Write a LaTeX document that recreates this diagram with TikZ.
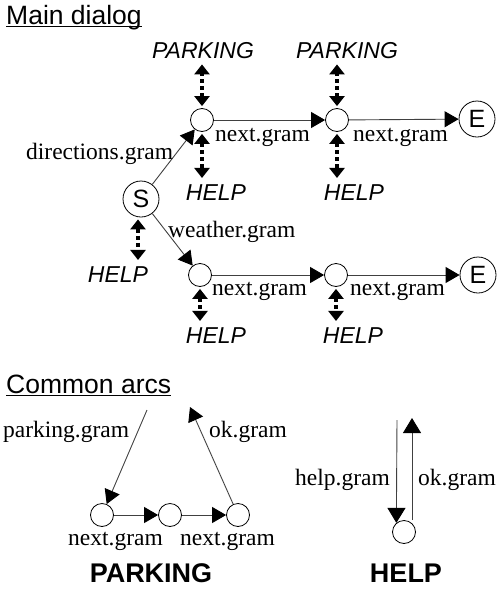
\documentclass[tikz,border=0pt]{standalone}
\usepackage{fontspec}
\setmainfont{Liberation Serif}
\setsansfont{Liberation Sans}
\usetikzlibrary{arrows.meta}

\begin{document}
\begin{tikzpicture}[x=1pt,y=-1pt,
  state/.style={circle,draw,line width=0.8pt,minimum size=23pt,inner sep=0pt},
  final/.style={state,minimum size=36pt,font=\sffamily\fontsize{25}{25}\selectfont},
  arc/.style={draw=black!75,line width=0.9pt,-{Triangle[length=14pt,width=16pt,color=black]}},
  bigarc/.style={arc,-{Triangle[length=15pt,width=18pt,color=black]}},
  subcall/.style={line width=4pt,dash pattern=on 4pt off 3pt,{Triangle[length=10pt,width=15pt]}-{Triangle[length=10pt,width=15pt]},shorten <=2pt},
  gram/.style={anchor=base west,inner sep=0pt,font=\fontsize{23.5}{23.5}\selectfont},
  sub/.style={anchor=base,inner sep=6pt,font=\sffamily\itshape\fontsize{23}{23}\selectfont},
  heading/.style={anchor=base west,inner sep=0pt,font=\sffamily\fontsize{26.5}{26.5}\selectfont},
  caption/.style={anchor=base,inner sep=0pt,font=\sffamily\bfseries\fontsize{27}{27}\selectfont}]
 \useasboundingbox (0,0) rectangle (498,592);

 % main dialog
 \node[heading] (main) at (6,24) {Main dialog};
 \draw[line width=1.5pt] ([yshift=-2.5pt]main.base west) -- ([yshift=-2.5pt]main.base east);

 \node[final] (S) at (141,199) {S};
 \node[state] (A) at (202,120) {};
 \node[state] (B) at (337,120) {};
 \node[final] (Et) at (477,119) {E};
 \node[state] (C) at (200,275) {};
 \node[state] (D) at (336,275) {};
 \node[final] (Eb) at (478,275) {E};

 \draw[arc] (S) -- (A);
 \draw[arc] (A) -- (B);
 \draw[arc] (B) -- (Et);
 \draw[arc] (S) -- (C);
 \draw[arc] (C) -- (D);
 \draw[arc] (D) -- (Eb);

 \node[gram] (dir) at (26,159) {directions.gram};
 \node[gram] (nAB) at (215,141) {next.gram};
 \node[gram] (nBE) at (353,141) {next.gram};
 \node[gram] (wea) at (168,237) {weather.gram};
 \node[gram] (nCD) at (212,295) {next.gram};
 \node[gram] (nDE) at (350,295) {next.gram};

 % sub-dialog calls
 \node[sub] (pA) at (203,58) {PARKING};
 \node[sub] (pB) at (347,58) {PARKING};
 \node[sub] (hA) at (216,200) {HELP};
 \node[sub] (hB) at (354,200) {HELP};
 \node[sub] (hS) at (118,282) {HELP};
 \node[sub] (hC) at (216,343) {HELP};
 \node[sub] (hD) at (353,343) {HELP};

 \draw[subcall] (A.north) -- (A.north |- pA.south);
 \draw[subcall] (B.north) -- (B.north |- pB.south);
 \draw[subcall] (A.south) -- (A.south |- hA.north);
 \draw[subcall] (B.south) -- (B.south |- hB.north);
 \draw[subcall] ([xshift=-3pt]S.south) -- ([xshift=-3pt]S.south |- hS.north);
 \draw[subcall] (C.south) -- (C.south |- hC.north);
 \draw[subcall] (D.south) -- (D.south |- hD.north);

 % common arcs
 \node[heading] (common) at (6,393) {Common arcs};
 \draw[line width=1.5pt] ([yshift=-2.5pt]common.base west) -- ([yshift=-2.5pt]common.base east);

 \node[state] (p1) at (102,515) {};
 \node[state] (p2) at (170,515) {};
 \node[state] (p3) at (238,515) {};
 \coordinate (pin) at (147,410);
 \coordinate (pout) at (190,407);
 \draw[arc] (pin) -- (p1);
 \draw[arc] (p1) -- (p2);
 \draw[arc] (p2) -- (p3);
 \draw[arc] (p3) -- (pout);
 \node[gram] (pg) at (3,437) {parking.gram};
 \node[gram] (okp) at (209,437) {ok.gram};
 \node[gram] (n12) at (68,545) {next.gram};
 \node[gram] (n23) at (180,545) {next.gram};
 \node[caption] (park) at (151,582) {PARKING};

 \node[state] (h) at (404,532) {};
 \coordinate (hin) at (397,420);
 \coordinate (hout) at (412,418);
 \draw[bigarc] (hin) -- (h.130);
 \draw[bigarc] (hout |- h.north) -- (hout);
 \node[gram] (hg) at (295,485) {help.gram};
 \node[gram] (okh) at (418,485) {ok.gram};
 \node[caption] (help) at (406,582) {HELP};
\end{tikzpicture}
\end{document}
